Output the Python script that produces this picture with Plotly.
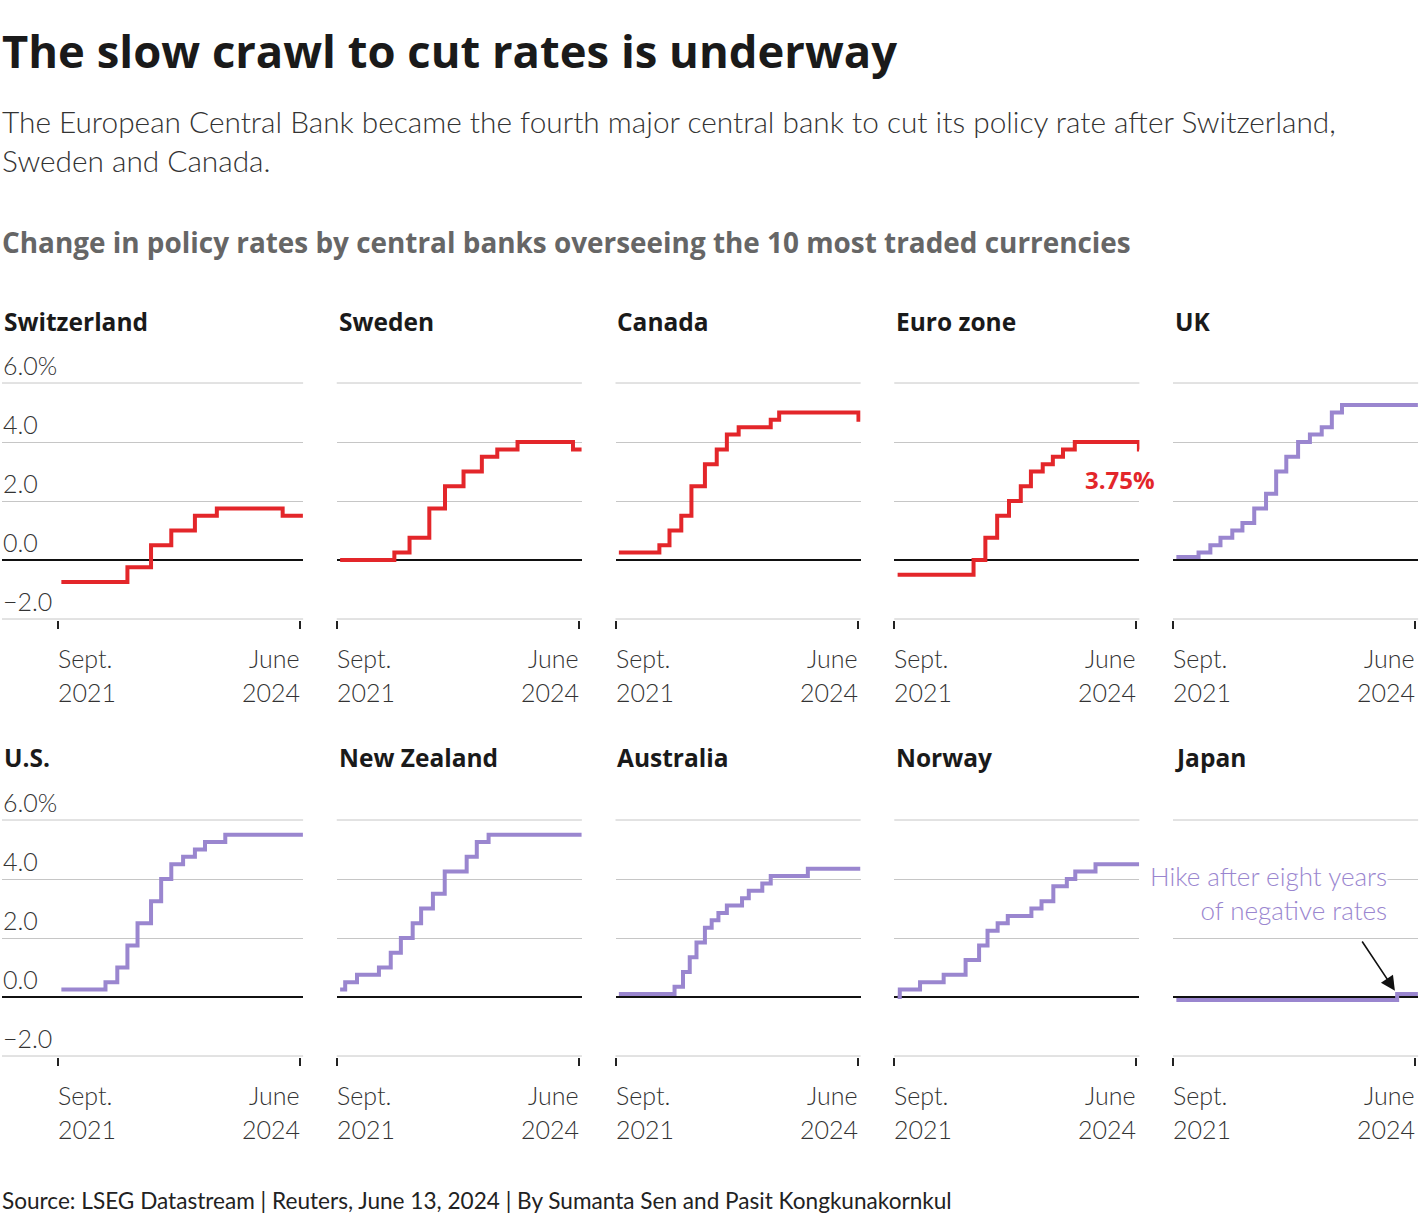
import plotly.graph_objects as go
from datetime import datetime, timedelta

W, H = 1420, 1222

def px(x):
    return x / W

def py(y):
    return 1 - y / H

# ---------------- data ----------------
countries = ["Switzerland", "Sweden", "Canada", "Euro zone", "UK",
             "U.S.", "New Zealand", "Australia", "Norway", "Japan"]
cut_flags = [True, True, True, True, False, False, False, False, False, False]

switzerland_dates = ["2021-09-15", "2022-06-16", "2022-09-22", "2022-12-15", "2023-03-23",
                     "2023-06-22", "2024-03-21", "2024-06-13"]
switzerland_rates = [-0.75, -0.25, 0.5, 1.0, 1.5, 1.75, 1.5, 1.5]

sweden_dates = ["2021-09-15", "2022-04-28", "2022-06-30", "2022-09-20", "2022-11-24", "2023-02-09",
                "2023-04-26", "2023-06-29", "2023-09-21", "2024-05-08", "2024-06-13"]
sweden_rates = [0.0, 0.25, 0.75, 1.75, 2.5, 3.0, 3.5, 3.75, 4.0, 3.75, 3.75]

canada_dates = ["2021-09-15", "2022-03-02", "2022-04-13", "2022-06-01", "2022-07-13", "2022-09-07",
                "2022-10-26", "2022-12-07", "2023-01-25", "2023-06-07", "2023-07-12", "2024-06-05",
                "2024-06-13"]
canada_rates = [0.25, 0.5, 1.0, 1.5, 2.5, 3.25, 3.75, 4.25, 4.5, 4.75, 5.0, 4.75, 4.75]

euro_dates = ["2021-09-15", "2022-07-27", "2022-09-14", "2022-11-02", "2022-12-21", "2023-02-08",
              "2023-03-22", "2023-05-10", "2023-06-21", "2023-08-02", "2023-09-20", "2024-06-12",
              "2024-06-13"]
euro_rates = [-0.5, 0.0, 0.75, 1.5, 2.0, 2.5, 3.0, 3.25, 3.5, 3.75, 4.0, 3.75, 3.75]

uk_dates = ["2021-09-15", "2021-12-16", "2022-02-03", "2022-03-17", "2022-05-05", "2022-06-16",
            "2022-08-04", "2022-09-22", "2022-11-03", "2022-12-15", "2023-02-02", "2023-03-23",
            "2023-05-11", "2023-06-22", "2023-08-03", "2024-06-13"]
uk_rates = [0.1, 0.25, 0.5, 0.75, 1.0, 1.25, 1.75, 2.25, 3.0, 3.5, 4.0, 4.25, 4.5, 5.0, 5.25, 5.25]

us_dates = ["2021-09-15", "2022-03-17", "2022-05-05", "2022-06-16", "2022-07-28", "2022-09-22",
            "2022-11-03", "2022-12-15", "2023-02-02", "2023-03-23", "2023-05-04", "2023-07-27",
            "2024-06-13"]
us_rates = [0.25, 0.5, 1.0, 1.75, 2.5, 3.25, 4.0, 4.5, 4.75, 5.0, 5.25, 5.5, 5.5]

nz_dates = ["2021-09-15", "2021-10-06", "2021-11-24", "2022-02-23", "2022-04-13", "2022-05-25",
            "2022-07-13", "2022-08-17", "2022-10-05", "2022-11-23", "2023-02-22", "2023-04-05",
            "2023-05-24", "2024-06-13"]
nz_rates = [0.25, 0.5, 0.75, 1.0, 1.5, 2.0, 2.5, 3.0, 3.5, 4.25, 4.75, 5.25, 5.5, 5.5]

australia_dates = ["2021-09-15", "2022-05-04", "2022-06-08", "2022-07-06", "2022-08-03", "2022-09-07",
                   "2022-10-05", "2022-11-02", "2022-12-07", "2023-02-08", "2023-03-08", "2023-05-03",
                   "2023-06-07", "2023-11-08", "2024-06-13"]
australia_rates = [0.1, 0.35, 0.85, 1.35, 1.85, 2.35, 2.6, 2.85, 3.1, 3.35, 3.6, 3.85, 4.1, 4.35, 4.35]

norway_dates = ["2021-09-15", "2021-09-24", "2021-12-17", "2022-03-25", "2022-06-24", "2022-08-19",
                "2022-09-23", "2022-11-04", "2022-12-16", "2023-03-24", "2023-05-05", "2023-06-23",
                "2023-08-18", "2023-09-22", "2023-12-15", "2024-06-13"]
norway_rates = [0.0, 0.25, 0.5, 0.75, 1.25, 1.75, 2.25, 2.5, 2.75, 3.0, 3.25, 3.75, 4.0, 4.25, 4.5, 4.5]

japan_dates = ["2021-09-15", "2024-03-19", "2024-06-13"]
japan_rates = [-0.1, 0.1, 0.1]

all_dates = [switzerland_dates, sweden_dates, canada_dates, euro_dates, uk_dates,
             us_dates, nz_dates, australia_dates, norway_dates, japan_dates]
all_rates = [switzerland_rates, sweden_rates, canada_rates, euro_rates, uk_rates,
             us_rates, nz_rates, australia_rates, norway_rates, japan_rates]

y_ticks = [-2, 0, 2, 4, 6]
y_tick_labels = ["\u22122.0", "0.0", "2.0", "4.0", "6.0%"]
y_min, y_max = -2, 6
x_tick_dates = ["2021-09-01", "2024-06-01"]
x_tick_top = ["Sept.", "June"]
x_tick_bottom = ["2021", "2024"]

# ---------------- style ----------------
RED = "#e3262a"
PURPLE = "#9a86cf"
GRID = "#c6c6c6"
BOLD_FONT = "Open Sans"
LIGHT_FONT = "Lato"

sept_px = [58, 336.75, 615.5, 894.25, 1173]
title_px = [2, 337, 615, 894, 1173]
scale = 242 / 1004.0  # pixels per day
unit_px = 29.5
pad = 0.03
rows_top = [383, 820]
rows_bot = [619, 1056]
rows_title = [321, 757]
rows_tick1 = [658, 1095]
rows_tick2 = [692, 1129]

sept1 = datetime(2021, 9, 1)
fig = go.Figure()
annotations = []
shapes = []
layout_axes = {}

for i, name in enumerate(countries):
    r, c = divmod(i, 5)
    n = i + 1
    xname = "x" if n == 1 else f"x{n}"
    yname = "y" if n == 1 else f"y{n}"
    color = RED if cut_flags[i] else PURPLE

    fig.add_trace(go.Scatter(
        x=all_dates[i], y=all_rates[i], mode="lines",
        line=dict(color=color, width=4, shape="hv"),
        xaxis=xname, yaxis=yname, showlegend=False, hoverinfo="x+y"))

    left_px = 2 if c == 0 else sept_px[c]
    right_px = sept_px[c] + 1017 * scale
    start = sept1 - timedelta(days=(sept_px[c] - left_px) / scale)
    end = sept1 + timedelta(days=1017)

    layout_axes["xaxis" if n == 1 else f"xaxis{n}"] = dict(
        domain=[px(left_px), px(right_px)], anchor=yname,
        range=[start.strftime("%Y-%m-%d %H:%M"), end.strftime("%Y-%m-%d")],
        type="date", showgrid=False, zeroline=False, showline=False,
        tickvals=x_tick_dates, ticks="outside", ticklen=8, tickwidth=2,
        tickcolor="#222", showticklabels=False, fixedrange=True)
    layout_axes["yaxis" if n == 1 else f"yaxis{n}"] = dict(
        domain=[py(rows_bot[r] + pad * unit_px), py(rows_top[r] - pad * unit_px)],
        anchor=xname,
        range=[y_min - pad, y_max + pad], tickvals=y_ticks, showticklabels=False,
        showgrid=True, gridcolor=GRID, gridwidth=1,
        zeroline=True, zerolinecolor="#111", zerolinewidth=2,
        showline=False, ticks="", fixedrange=True)

    # edge gridlines (plotly drops gridlines sitting on the plot edge)
    for yv in (y_min, y_max):
        shapes.append(dict(
            type="line", xref=f"{xname} domain", yref=yname, x0=0, x1=1, y0=yv, y1=yv,
            line=dict(color=GRID, width=1), layer="below"))

    # panel title
    annotations.append(dict(
        text=f"<b>{name}</b>", xref="paper", yref="paper",
        x=px(title_px[c]), y=py(rows_title[r]), xanchor="left", yanchor="middle",
        showarrow=False, font=dict(family=BOLD_FONT, size=24.5, color="#1a1a1a")))

    # x tick labels
    for k, d in enumerate(x_tick_dates):
        anchor = "left" if k == 0 else "right"
        shift = -2 if k == 0 else 2
        for txt, ypix in ((x_tick_top[k], rows_tick1[r]), (x_tick_bottom[k], rows_tick2[r])):
            annotations.append(dict(
                text=txt, xref=xname, yref="paper", x=d, y=py(ypix),
                xanchor=anchor, yanchor="middle", xshift=shift, showarrow=False,
                font=dict(family=LIGHT_FONT, size=25, color="#333", weight=300)))

    # y tick labels on first column
    if c == 0:
        for v, lab in zip(y_ticks, y_tick_labels):
            annotations.append(dict(
                text=lab, xref="paper", yref=yname, x=px(1), y=v,
                xanchor="left", yanchor="middle", yshift=18, showarrow=False,
                font=dict(family=LIGHT_FONT, size=25, color="#333", weight=300)))

# Euro zone label
annotations.append(dict(
    text="<b>3.75%</b>", xref="paper", yref="paper", x=px(1157), y=py(479),
    xanchor="right", yanchor="middle", showarrow=False,
    font=dict(family=BOLD_FONT, size=24, color=RED)))

# Japan annotation
annotations.append(dict(
    text="Hike after eight years<br>of negative rates", xref="paper", yref="paper",
    x=px(1388), y=py(893), xanchor="right", yanchor="middle", align="right",
    showarrow=False, bgcolor="white", borderpad=0,
    font=dict(family=LIGHT_FONT, size=26, color=PURPLE, weight=300)))
annotations.append(dict(
    text="", xref="x10", yref="y10", x="2024-03-19", y=0.1,
    ax=-36, ay=-54, showarrow=True, arrowhead=2, arrowsize=1.8,
    arrowwidth=1.6, arrowcolor="#111", standoff=4))

# Headline texts
annotations += [
    dict(text="<b>The slow crawl to cut rates is underway</b>", xref="paper", yref="paper",
         x=0, y=py(50), xanchor="left", yanchor="middle", showarrow=False,
         font=dict(family=BOLD_FONT, size=45.4, color="#1a1a1a")),
    dict(text="The European Central Bank became the fourth major central bank to cut its policy rate after Switzerland,",
         xref="paper", yref="paper", x=0, y=py(122), xanchor="left", yanchor="middle",
         showarrow=False, font=dict(family=LIGHT_FONT, size=29.8, color="#333", weight=300)),
    dict(text="Sweden and Canada.", xref="paper", yref="paper", x=0, y=py(161),
         xanchor="left", yanchor="middle", showarrow=False,
         font=dict(family=LIGHT_FONT, size=29.8, color="#333", weight=300)),
    dict(text="<b>Change in policy rates by central banks overseeing the 10 most traded currencies</b>",
         xref="paper", yref="paper", x=0, y=py(242), xanchor="left", yanchor="middle",
         showarrow=False, font=dict(family=BOLD_FONT, size=27.9, color="#666")),
    dict(text="Source: LSEG Datastream | Reuters, June 13, 2024 | By Sumanta Sen and Pasit Kongkunakornkul",
         xref="paper", yref="paper", x=0, y=py(1200), xanchor="left", yanchor="middle",
         showarrow=False, font=dict(family=LIGHT_FONT, size=22.6, color="#222")),
]

fig.update_layout(
    width=W, height=H, margin=dict(l=0, r=0, t=0, b=0),
    paper_bgcolor="white", plot_bgcolor="white",
    annotations=annotations, shapes=shapes, showlegend=False, **layout_axes)

fig.write_html("out.html", config={"displayModeBar": False})
